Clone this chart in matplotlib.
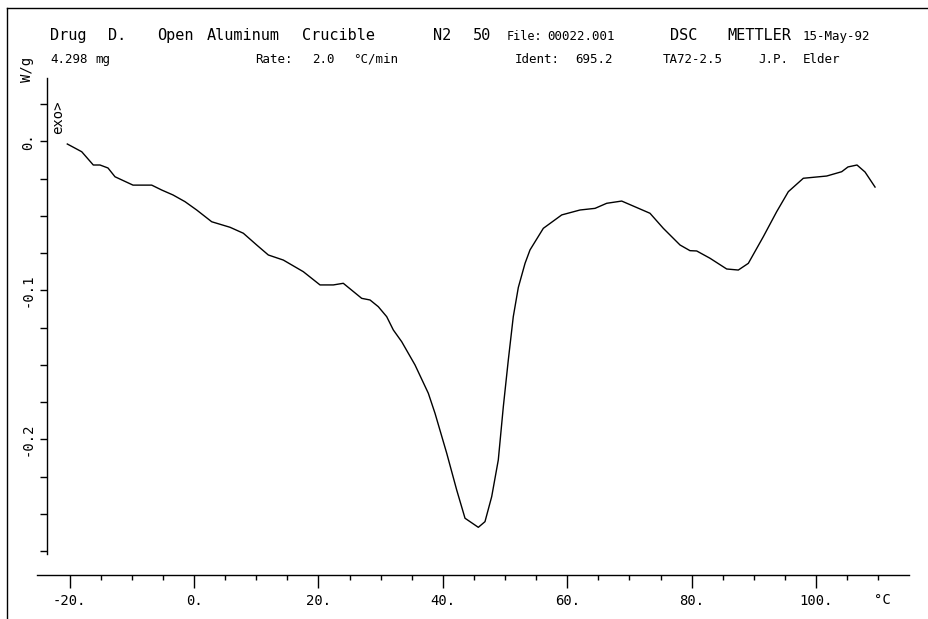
import numpy as np
import matplotlib
matplotlib.use("Agg")
import matplotlib.pyplot as plt
from matplotlib.lines import Line2D
from matplotlib.ticker import FixedLocator, FixedFormatter

plt.rcParams["font.family"] = ["DejaVu Sans Mono", "DejaVu Sans"]

# DSC trace: temperature (deg C) vs heat flow (W/g)
temp = [-20.37, -18.05, -16.19, -15.11, -13.83, -12.70, -9.81, -6.80, -5.19, -3.38,
        -1.45, 0.43, 2.85, 5.79, 7.93, 10.08, 11.95, 14.36, 17.57, 20.26,
        22.40, 24.00, 26.96, 28.30, 29.63, 30.98, 32.04, 33.39, 35.53, 37.67,
        38.75, 40.63, 42.23, 43.57, 45.71, 46.78, 47.86, 48.92, 49.73, 50.53,
        51.33, 52.14, 53.22, 54.02, 56.16, 59.12, 62.06, 64.47, 66.35, 68.76,
        73.31, 75.45, 78.14, 79.74, 80.82, 82.96, 85.64, 87.51, 89.12, 91.53,
        93.68, 95.55, 97.96, 101.72, 104.13, 105.14, 106.59, 107.88, 109.49]
heat = [-0.0018, -0.0070, -0.0159, -0.0159, -0.0179, -0.0238, -0.0294, -0.0294, -0.0327, -0.0360,
        -0.0405, -0.0461, -0.0540, -0.0577, -0.0617, -0.0696, -0.0763, -0.0797, -0.0875, -0.0964,
        -0.0964, -0.0953, -0.1054, -0.1065, -0.1110, -0.1177, -0.1266, -0.1345, -0.1501, -0.1691,
        -0.1826, -0.2094, -0.2340, -0.2530, -0.2591, -0.2553, -0.2385, -0.2139, -0.1781, -0.1468,
        -0.1177, -0.0981, -0.0819, -0.0729, -0.0584, -0.0494, -0.0461, -0.0450, -0.0416, -0.0401,
        -0.0483, -0.0584, -0.0696, -0.0734, -0.0736, -0.0785, -0.0857, -0.0864, -0.0819, -0.0640,
        -0.0472, -0.0338, -0.0248, -0.0233, -0.0204, -0.0172, -0.0159, -0.0206, -0.0307]

x_major = [-20, 0, 20, 40, 60, 80, 100]
x_labels = ["-20.", "0.", "20.", "40.", "60.", "80.", "100."]
x_minor = [t for t in range(-15, 111, 5) if t % 20]
y_major = [0.0, -0.1, -0.2]
y_labels = ["0.", "-0.1", "-0.2"]
y_minor = [0.025, -0.025, -0.05, -0.075, -0.125, -0.15, -0.175, -0.225, -0.25, -0.275]

# header words: (text, x px, baseline y px, size)
header = [
    ("Drug", 50, 40, 11), ("D.", 108, 40, 11), ("Open", 157, 40, 11),
    ("Aluminum", 207, 40, 11), ("Crucible", 302, 40, 11), ("N2", 433, 40, 11),
    ("50", 473, 40, 11), ("File:", 507, 40, 8.5), ("00022.001", 547, 40, 9),
    ("DSC", 670, 40, 11), ("METTLER", 727, 40, 11), ("15-May-92", 803, 40, 9),
    ("4.298", 50, 63, 9), ("mg", 95, 63, 9), ("Rate:", 255, 63, 9),
    ("2.0", 312, 63, 9), ("°C/min", 353, 63, 9), ("Ident:", 515, 63, 9),
    ("695.2", 575, 63, 9), ("TA72-2.5", 663, 63, 9), ("J.P.", 758, 63, 9),
    ("Elder", 803, 63, 9),
]

W, H = 929, 619
def fx(x): return x / W
def fy(y): return 1 - y / H

fig = plt.figure(figsize=(W / 100, H / 100), dpi=100)
ax = fig.add_axes([fx(36.7), fy(575), (909 - 36.7) / W, (575 - 78) / H])
ax.plot(temp, heat, color="black", lw=1.0)
ax.set_xlim(-25.29, 114.95)
ax.set_ylim(-0.2911, 0.0425)

for s in ("top", "right"):
    ax.spines[s].set_visible(False)
ax.spines["left"].set_position(("data", -23.68))
ax.spines["left"].set_bounds(-0.2767, 0.0425)
for s in ("left", "bottom"):
    ax.spines[s].set_linewidth(1.0)

ax.xaxis.set_major_locator(FixedLocator(x_major))
ax.xaxis.set_major_formatter(FixedFormatter(x_labels))
ax.xaxis.set_minor_locator(FixedLocator(x_minor))
ax.yaxis.set_major_locator(FixedLocator(y_major))
ax.yaxis.set_major_formatter(FixedFormatter(y_labels))
ax.yaxis.set_minor_locator(FixedLocator(y_minor))
ax.tick_params(axis="x", which="major", length=9.5, width=1.0, pad=4, labelsize=10)
ax.tick_params(axis="x", which="minor", length=3.5, width=1.0)
ax.tick_params(axis="y", which="both", length=5, width=1.0)
ax.tick_params(axis="y", which="major", pad=3.5, labelsize=10, labelrotation=90)
for lab in ax.get_yticklabels():
    lab.set_va("center")

for txt, x, y, size in header:
    fig.text(fx(x), fy(y), txt, ha="left", va="baseline", fontsize=size)

fig.text(fx(27), fy(69), "W/g", rotation=90, ha="center", va="center", fontsize=10)
fig.text(fx(58), fy(117), "exo>", rotation=90, ha="center", va="center", fontsize=10)
fig.text(fx(882), fy(600), "°C", ha="center", va="center", fontsize=10)

# page frame
fig.add_artist(Line2D([fx(7.5), fx(7.5)], [0, fy(8)], transform=fig.transFigure, color="black", lw=1.0))
fig.add_artist(Line2D([fx(7.5), 1], [fy(8), fy(8)], transform=fig.transFigure, color="black", lw=1.0))

fig.savefig("out.png", dpi=100)
